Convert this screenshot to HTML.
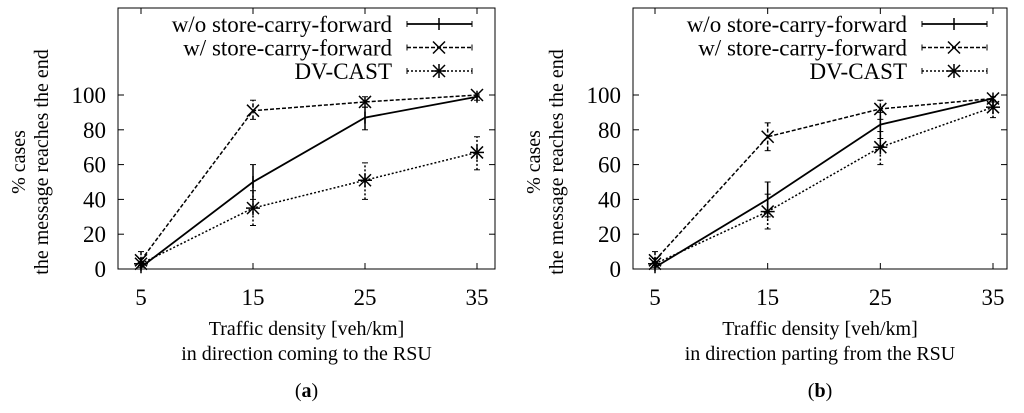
<!DOCTYPE html>
<html><head><meta charset="utf-8"><style>
body{margin:0;background:#fff}
svg{display:block;font-family:"Liberation Serif",serif}
</style></head><body>
<svg id="c" width="1024" height="413" viewBox="0 0 1024 413"></svg>
<script>
const categories=[5,15,25,35];
const yTicks=[0,20,40,60,80,100];
const seriesNames=["w/o store-carry-forward","w/ store-carry-forward","DV-CAST"];
// panel a
const aWo=[1,50,87,99], aWoLo=[0,40,80,97], aWoHi=[2,60,93,100];
const aW=[5,91,96,100], aWLo=[1,86,93,99], aWHi=[10,97,99,100];
const aDv=[3,35,51,67], aDvLo=[0,25,40,57], aDvHi=[6,45,61,76];
// panel b
const bWo=[1,40,83,98], bWoLo=[0,30,75,96], bWoHi=[2,50,90,99];
const bW=[5,76,92,98], bWLo=[1,68,86,96], bWHi=[10,84,97,99];
const bDv=[3,33,70,93], bDvLo=[0,23,60,87], bDvHi=[6,43,79,97];

const FS=23, TS=20;
const svg=document.getElementById('c');const NS='http://www.w3.org/2000/svg';
function el(t,a,p){const e=document.createElementNS(NS,t);for(const k in a)e.setAttribute(k,a[k]);(p||svg).appendChild(e);return e;}
function txt(s,a,p){const e=el('text',a,p);e.textContent=s;return e;}
const dashes=["none","4,2","2,2"];
function panel(px,id,data,xl2,lab){
  const g=el('g',{});
  
  
  const L=px.left,R=px.right,T=8,B=269;
  const xs=v=>px.x5+(v-5)/30*(px.x35-px.x5);
  const ys=v=>B-(v/100)*(B-95);
  const f=el('rect',{x:L,y:T,width:R-L,height:B-T,fill:'none',stroke:'#000','stroke-width':1},g);
  
  yTicks.forEach(t=>{const y=ys(t);
    el('line',{x1:L,x2:L+6,y1:y,y2:y,stroke:'#000'},g);el('line',{x1:R,x2:R-6,y1:y,y2:y,stroke:'#000'},g);
    const e=txt(t,{x:L-12,y:y+8,'text-anchor':'end','font-size':FS},g);
    });
  categories.forEach(c=>{const x=xs(c);
    el('line',{x1:x,x2:x,y1:B,y2:B-6,stroke:'#000'},g);el('line',{x1:x,x2:x,y1:T,y2:T+6,stroke:'#000'},g);
    const e=txt(c,{x:x,y:305,'text-anchor':'middle','font-size':FS},g);
    });
  const yt=el('text',{transform:`translate(${L-93},${162}) rotate(-90)`,'text-anchor':'middle','font-size':TS},g);
  
  const t1=el('tspan',{x:0,dy:0},yt);t1.textContent='% cases';
  const t2=el('tspan',{x:0,dy:23},yt);t2.textContent='the message reaches the end';
  const cx=(L+R)/2;
  const xt=txt('Traffic density [veh/km]',{x:cx,y:335,'text-anchor':'middle','font-size':TS},g);
  
  const xt2=txt(xl2,{x:cx,y:360,'text-anchor':'middle','font-size':TS},g);
  
  const pl=el('text',{x:cx,y:397,'text-anchor':'middle','font-size':TS},g);
  
  pl.innerHTML='(<tspan font-weight="bold">'+lab+'</tspan>)';
  function marker(k,x,y,p){
    if(k==0){el('line',{x1:x,x2:x,y1:y-6,y2:y+6,stroke:'#000','stroke-width':1.5},p);}
    else{el('line',{x1:x-6,x2:x+6,y1:y-6,y2:y+6,stroke:'#000','stroke-width':1.5},p);el('line',{x1:x-6,x2:x+6,y1:y+6,y2:y-6,stroke:'#000','stroke-width':1.5},p);
      if(k==2){el('line',{x1:x,x2:x,y1:y-7,y2:y+7,stroke:'#000','stroke-width':1.5},p);el('line',{x1:x-7,x2:x+7,y1:y,y2:y,stroke:'#000','stroke-width':1.5},p);}}
  }
  data.forEach((s,k)=>{
    const sg=el('g',{},g);
    
    const pts=s.v.map((v,i)=>xs(categories[i])+','+ys(v)).join(' ');
    const a={points:pts,fill:'none',stroke:'#000','stroke-width':k==0?1.8:1.5};
    if(dashes[k]!='none')a['stroke-dasharray']=dashes[k];
    el('polyline',a,sg);
    s.v.forEach((v,i)=>{const x=xs(categories[i]);
      const ea={x1:x,x2:x,y1:ys(s.lo[i]),y2:ys(s.hi[i]),stroke:'#000','stroke-width':1.5};if(dashes[k]!='none')ea['stroke-dasharray']=dashes[k];
      el('line',ea,sg);
      el('line',{x1:x-3,x2:x+3,y1:ys(s.lo[i]),y2:ys(s.lo[i]),stroke:'#000'},sg);
      el('line',{x1:x-3,x2:x+3,y1:ys(s.hi[i]),y2:ys(s.hi[i]),stroke:'#000'},sg);
      marker(k,x,ys(v),sg);});
    const ly=24+k*23.5;
    const lt=txt(seriesNames[k],{x:px.legX,y:ly+8,'text-anchor':'end','font-size':FS},g);
    
    const la={x1:px.legX+15,x2:px.legX+80,y1:ly,y2:ly,stroke:'#000','stroke-width':k==0?1.8:1.5};if(dashes[k]!='none')la['stroke-dasharray']=dashes[k];
    el('line',la,g);
    el('line',{x1:px.legX+15,x2:px.legX+15,y1:ly-3,y2:ly+3,stroke:'#000'},g);
    el('line',{x1:px.legX+80,x2:px.legX+80,y1:ly-3,y2:ly+3,stroke:'#000'},g);
    marker(k,px.legX+47,ly,g);
  });
}
panel({left:118,right:495,x5:141,x35:477,legX:392},'a',[{v:aWo,lo:aWoLo,hi:aWoHi},{v:aW,lo:aWLo,hi:aWHi},{v:aDv,lo:aDvLo,hi:aDvHi}],'in direction coming to the RSU','a');
panel({left:633,right:1007,x5:655,x35:993,legX:907},'b',[{v:bWo,lo:bWoLo,hi:bWoHi},{v:bW,lo:bWLo,hi:bWHi},{v:bDv,lo:bDvLo,hi:bDvHi}],'in direction parting from the RSU','b');
</script>
</body></html>
